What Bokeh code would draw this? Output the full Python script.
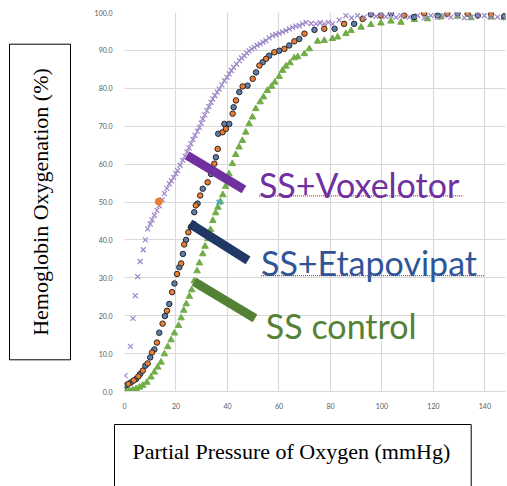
from bokeh.plotting import figure
from bokeh.models import Label, Title, NumeralTickFormatter, FixedTicker
from bokeh.embed import file_html
from bokeh.resources import INLINE

# ---- data ----
vox_po2 = [
    0.2, 2.3, 3.3, 4.2, 5.1, 6.1, 7.3, 8.1, 9.0, 10.0,
    10.7, 11.6, 12.6, 13.5, 14.6, 15.5, 16.5, 17.4, 18.2, 19.1,
    19.9, 20.6, 21.6, 22.6, 23.5, 24.3, 25.1, 25.8, 26.6, 27.4,
    28.3, 29.1, 29.8, 30.4, 31.2, 32.0, 32.8, 33.6, 34.3, 35.1,
    36.0, 36.8, 37.8, 38.8, 39.8, 40.7, 41.5, 42.4, 43.5, 44.6,
    45.5, 46.5, 47.5, 48.4, 49.4, 50.4, 51.5, 52.7, 53.8, 54.9,
    56.2, 57.5, 58.8, 60.1, 61.4, 62.7, 64.0, 65.3, 66.6, 67.9,
    69.2, 70.5, 72.5, 74.4, 76.0, 77.6, 79.2, 80.8, 83.4, 86.0,
    88.2, 90.5, 93.1, 95.7, 97.7, 99.6, 101.5, 103.5, 105.5, 107.4,
    110.6, 113.9, 116.5, 119.0, 121.6, 124.2, 126.8, 129.4, 132.0, 134.6,
    137.2, 139.8, 142.4, 144.9, 148.0]
vox_so2 = [
    4.2, 11.9, 19.3, 25.3, 30.3, 34.3, 37.4, 40.0, 42.9, 44.2,
    45.3, 46.5, 47.8, 49.0, 50.6, 52.2, 53.6, 54.8, 55.6, 56.5,
    57.5, 58.3, 59.7, 61.0, 62.1, 63.2, 64.3, 65.4, 66.5, 67.6,
    68.7, 69.7, 70.8, 71.9, 73.0, 74.1, 75.2, 76.3, 77.2, 78.1,
    79.0, 79.8, 80.9, 82.0, 82.9, 83.8, 84.7, 85.5, 86.4, 87.3,
    88.0, 88.6, 89.3, 89.9, 90.4, 90.8, 91.3, 91.7, 92.2, 92.6,
    93.3, 93.9, 94.2, 94.5, 94.9, 95.2, 95.7, 96.1, 96.4, 96.5,
    97.0, 97.4, 97.1, 97.0, 97.3, 97.0, 97.4, 97.0, 98.0, 99.2,
    98.6, 99.2, 98.8, 99.6, 99.0, 99.6, 98.9, 99.2, 98.7, 99.2,
    98.8, 99.2, 98.6, 99.2, 98.7, 99.2, 98.8, 99.2, 98.6, 98.8,
    99.3, 99.2, 98.7, 98.8, 98.6]

ctrl_po2 = [
    0.6, 1.9, 3.2, 4.5, 5.8, 7.1, 8.7, 10.3, 11.6, 12.9,
    14.2, 15.5, 16.8, 18.1, 19.4, 21.0, 22.0, 23.0, 24.0, 25.2,
    26.1, 27.1, 28.2, 29.1, 30.4, 31.3, 32.4, 33.4, 34.3, 35.4,
    36.3, 37.2, 38.2, 39.3, 40.6, 41.9, 43.2, 44.5, 45.8, 47.1,
    48.4, 49.7, 51.0, 52.7, 54.0, 55.5, 57.1, 58.4, 60.1, 61.4,
    62.7, 64.3, 65.9, 67.3, 69.9, 71.8, 75.0, 77.6, 80.8, 82.8,
    86.0, 88.0, 91.9, 95.7, 99.6, 103.5, 107.4, 112.6, 117.7, 122.9,
    129.4, 134.6, 142.4, 147.5]
ctrl_so2 = [
    0.1, 0.2, 0.4, 0.7, 1.1, 1.6, 2.4, 3.8, 5.1, 6.4,
    7.7, 9.9, 11.8, 13.6, 15.4, 17.4, 19.4, 21.4, 23.1, 25.1,
    26.8, 29.2, 31.8, 33.9, 36.3, 38.3, 40.3, 42.7, 45.1, 47.1,
    48.6, 50.1, 51.9, 54.1, 57.4, 60.1, 62.5, 64.5, 66.2, 68.4,
    70.6, 72.4, 74.6, 76.4, 77.7, 79.4, 80.5, 81.6, 83.1, 84.7,
    85.8, 86.7, 88.0, 88.3, 89.1, 90.4, 92.4, 92.6, 93.1, 93.5,
    94.4, 95.2, 96.1, 96.8, 97.2, 97.7, 97.4, 98.1, 98.3, 98.8,
    99.0, 98.6, 98.8, 98.6]

etapo_a_po2 = [0.6, 2.5, 4.5, 6.1, 8.1, 10.0, 11.6, 13.5, 15.7, 17.4,
               19.4, 21.3, 22.7, 23.9, 25.8, 27.1, 28.4, 30.4, 33.6, 35.5,
               36.4, 38.8, 40.7, 42.4, 44.6, 47.8, 51.1, 53.7, 56.2, 60.1,
               64.0, 67.9, 73.8, 81.6, 89.2, 95.7, 103.5, 112.5, 121.6, 129.4,
               137.2, 147.5]
etapo_a_so2 = [1.6, 2.4, 3.3, 4.6, 6.8, 9.0, 11.1, 15.5, 19.9, 23.1,
               28.5, 32.8, 36.3, 40.0, 43.4, 47.3, 49.6, 53.5, 57.4, 61.8,
               68.0, 70.6, 70.6, 75.0, 79.0, 80.7, 84.2, 86.9, 88.6, 89.9,
               91.3, 93.0, 95.4, 95.7, 97.0, 99.5, 99.8, 98.8, 99.2, 99.8,
               99.2, 99.0]
etapo_b_po2 = [1.5, 3.6, 5.4, 7.1, 9.0, 10.7, 12.6, 14.8, 16.5, 18.5,
               20.4, 22.0, 23.2, 24.8, 26.9, 27.7, 29.4, 32.3, 34.9, 36.2,
               38.1, 39.4, 42.0, 43.3, 45.9, 49.8, 52.4, 55.0, 58.2, 62.1,
               66.0, 69.9, 77.6, 85.3, 92.5, 99.6, 108.6, 116.4, 125.4, 133.3,
               142.4]
etapo_b_so2 = [2.0, 2.9, 4.0, 5.5, 7.4, 10.3, 12.9, 17.9, 21.3, 26.2,
               31.0, 33.8, 38.8, 42.0, 44.2, 49.1, 51.7, 55.2, 60.1, 64.0,
               68.4, 69.3, 73.3, 76.8, 80.5, 82.5, 86.0, 87.8, 89.5, 90.4,
               92.4, 94.4, 95.7, 97.0, 98.3, 99.2, 99.2, 99.8, 99.7, 99.7,
               99.5]

p50_vox = ([13.3], [50.1])
p50_ctrl = ([36.8], [49.9])

x_ticks = [0, 20, 40, 60, 80, 100, 120, 140]
y_ticks = [0, 10, 20, 30, 40, 50, 60, 70, 80, 90, 100]

# annotation pointer lines: (x0, x1), (y0, y1)
ptr_vox = ([24.3, 46.4], [62.3, 53.3])
ptr_etapo = ([25.4, 48.0], [44.3, 34.6])
ptr_ctrl = ([27.0, 50.7], [29.0, 19.3])

# ---- figure ----
p = figure(frame_width=381, frame_height=379, x_range=(0, 148), y_range=(0, 100),
           output_backend="svg", toolbar_location=None,
           min_border_left=124, min_border_right=2, min_border_top=12, min_border_bottom=95)
p.outline_line_color = None
p.background_fill_color = "white"

grid_col = "#D9D9D9"
p.xgrid.ticker = FixedTicker(ticks=x_ticks)
p.ygrid.ticker = FixedTicker(ticks=y_ticks)
p.xgrid.grid_line_color = grid_col
p.ygrid.grid_line_color = grid_col
p.xgrid.grid_line_width = 1.2
p.ygrid.grid_line_width = 1.2

p.xaxis.ticker = FixedTicker(ticks=x_ticks)
p.yaxis.ticker = FixedTicker(ticks=y_ticks)
p.yaxis.formatter = NumeralTickFormatter(format="0.0")
for ax in (p.xaxis[0], p.yaxis[0]):
    ax.major_tick_line_color = None
    ax.minor_tick_line_color = None
    ax.major_label_text_font = "Lato"
    ax.major_label_text_font_size = "7px"
    ax.major_label_text_color = "#595959"
p.yaxis.axis_line_color = None
p.xaxis.axis_line_color = grid_col
p.xaxis.axis_line_width = 1.2
p.yaxis.major_label_standoff = 6
p.xaxis.major_label_standoff = 5

# ---- series ----
p.scatter(ctrl_po2, ctrl_so2, marker="triangle", size=6.5, fill_color="#70AD47",
          line_color="#70AD47")
p.scatter(etapo_a_po2, etapo_a_so2, marker="circle", size=5.5, fill_color="#5B7FAE",
          line_color="#262626", line_width=1)
p.scatter(etapo_b_po2, etapo_b_so2, marker="circle", size=5.5, fill_color="#ED7D31",
          line_color="#262626", line_width=1)
p.scatter(vox_po2, vox_so2, marker="x", size=7, line_color="#9B85C6", line_width=1.2)
p.scatter(p50_vox[0], p50_vox[1], marker="circle", size=7, fill_color="#ED7D31",
          line_color="#ED7D31")
p.scatter(p50_ctrl[0], p50_ctrl[1], marker="x", size=7, line_color="#4BACC6", line_width=2)

# ---- pointer lines and labels ----
p.line(ptr_vox[0], ptr_vox[1], line_width=9, line_color="#7030A0")
p.line(ptr_etapo[0], ptr_etapo[1], line_width=9, line_color="#1F3864")
p.line(ptr_ctrl[0], ptr_ctrl[1], line_width=9, line_color="#548235")

p.line([52.2, 131.6], [51.6, 51.6], line_width=1.3, line_color="#FF2020", line_dash="1 1")
p.line([53.0, 139.6], [30.6, 30.6], line_width=1.3, line_color="#FF2020", line_dash="1 1")

lab_font = "Lato"
p.add_layout(Label(x=52.2, y=54.6, text="SS+Voxelotor", text_font=lab_font,
                   text_font_size="34px", text_color="#7030A0", text_baseline="alphabetic"))
p.add_layout(Label(x=53.0, y=34.0, text="SS+Etapovipat", text_font=lab_font,
                   text_font_size="34px", text_color="#2F5597", text_baseline="alphabetic"))
p.add_layout(Label(x=54.9, y=17.4, text="SS control", text_font=lab_font,
                   text_font_size="34px", text_color="#548235", text_baseline="alphabetic"))

# ---- boxed axis titles (side panels) ----
ytitle = Title(text="Hemoglobin Oxygenation (%)", align="center", vertical_align="top",
               text_font="Liberation Serif", text_font_size="22px",
               text_font_style="normal", text_color="black",
               border_line_color="black", border_line_width=1,
               padding=dict(left=24, right=24, top=18, bottom=18), standoff=14)
p.add_layout(ytitle, "left")
xtitle = Title(text="Partial Pressure of Oxygen (mmHg)", align="left", offset=-10,
               vertical_align="top",
               text_font="Liberation Serif", text_font_size="22px",
               text_font_style="normal", text_color="black",
               border_line_color="black", border_line_width=1,
               padding=dict(left=18, right=21, top=14, bottom=40), standoff=26)
p.add_layout(xtitle, "below")

open("out.html", "w").write(file_html(p, INLINE))
